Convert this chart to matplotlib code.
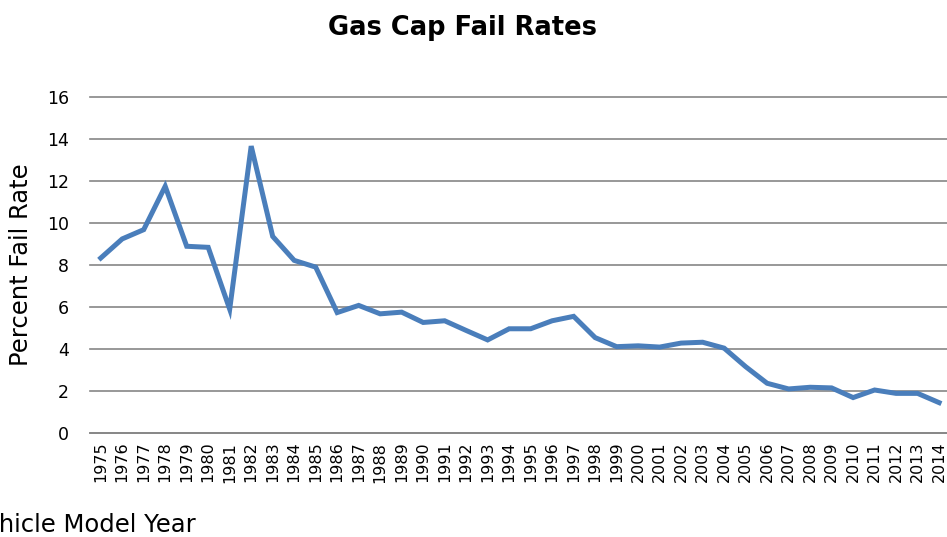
import matplotlib
matplotlib.use("Agg")
import matplotlib.pyplot as plt

years = [str(y) for y in range(1975, 2015)]
fail_rate = [8.33, 9.24, 9.68, 11.74, 8.89, 8.84, 5.9, 13.65, 9.36, 8.22,
             7.9, 5.74, 6.08, 5.68, 5.76, 5.27, 5.35, 4.89, 4.44, 4.97,
             4.97, 5.35, 5.56, 4.55, 4.12, 4.16, 4.1, 4.29, 4.33, 4.05,
             3.17, 2.38, 2.11, 2.19, 2.16, 1.7, 2.06, 1.9, 1.9, 1.46]
yticks = [0, 2, 4, 6, 8, 10, 12, 14, 16]

fig = plt.figure(figsize=(9.47, 5.37), dpi=100)
ax = fig.add_axes([0.095, 0.193, 0.908, 0.627])

x = list(range(len(years)))
ax.plot(x, fail_rate, color="#4A7EBB", lw=3.6, solid_joinstyle="miter", zorder=3)

ax.set_xlim(-0.5, len(years) - 0.5)
ax.set_ylim(0, 16)
ax.set_yticks(yticks)
ax.set_xticks(x)
ax.set_xticklabels(years, rotation=90, fontsize=11.5)
ax.tick_params(axis="x", length=0, pad=6)
ax.tick_params(axis="y", length=0, pad=15, labelsize=12.5)
ax.yaxis.grid(True, color="#868686", lw=1.2)
for gl in ax.get_ygridlines():
    gl.set_clip_on(False)
ax.set_axisbelow(True)
for s in ["top", "right", "left"]:
    ax.spines[s].set_visible(False)
ax.spines["bottom"].set_color("#868686")
ax.spines["bottom"].set_linewidth(1.2)

ax.set_ylabel("Percent Fail Rate", fontsize=17.5, labelpad=10)
fig.text(0.488, 0.948, "Gas Cap Fail Rates", ha="center", va="center",
         fontsize=18.5, fontweight="bold")
# axis title sits partly off the left edge, as in the original
fig.text(-0.033, 0.022, "Vehicle Model Year", ha="left", va="center", fontsize=17.5)

fig.savefig("out.png", dpi=100)
